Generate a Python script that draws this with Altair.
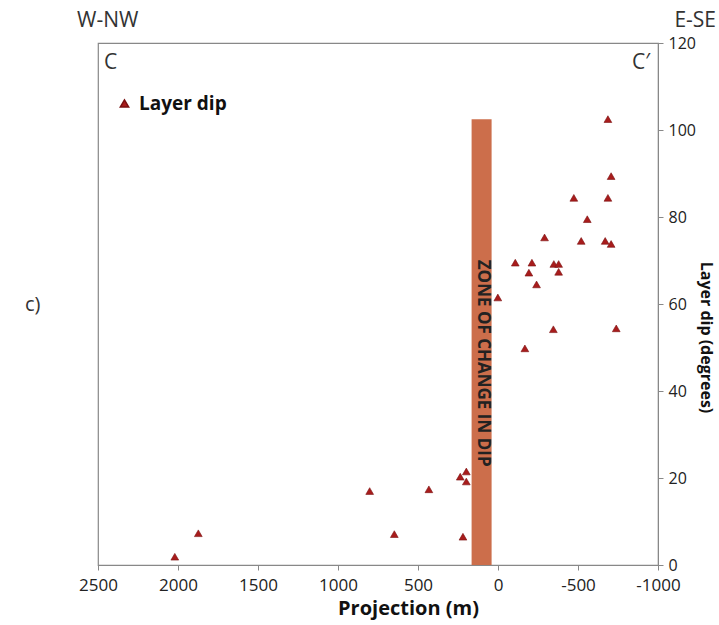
import altair as alt
import pandas as pd

# Layer dip measurements
projection_m = [2020, 1873, 802, 648, 432, 236, 198, 198, 219, 1, -108, -212, -349, -379,
                -193, -379, -241, -346, -739, -168, -687, -707, -474, -687, -558, -291,
                -520, -670, -707]
layer_dip = [1.9, 7.3, 17.0, 7.1, 17.4, 20.3, 21.5, 19.2, 6.5, 61.5, 69.5, 69.5, 69.2, 69.2,
             67.2, 67.4, 64.5, 54.2, 54.4, 49.8, 102.5, 89.4, 84.4, 84.4, 79.5, 75.3, 74.5,
             74.5, 73.8]
series = ["Layer dip"] * len(layer_dip)

zone_x = [165]
zone_x2 = [40]
zone_top = [102.5]
zone_label = ["ZONE OF CHANGE IN DIP"]
zone_label_x = [92]
zone_label_y = [46.4]

x_ticks = [2500, 2000, 1500, 1000, 500, 0, -500, -1000]
y_ticks = [0, 20, 40, 60, 80, 100, 120]

pts = pd.DataFrame({"proj": projection_m, "dip": layer_dip, "series": series})
zone = pd.DataFrame({"x": zone_x, "x2": zone_x2, "y0": [0], "y1": zone_top})
zlab = pd.DataFrame({"x": zone_label_x, "y": zone_label_y, "t": zone_label})

FONT = "Open Sans"

xscale = alt.Scale(domain=[2500, -1000], nice=False, zero=False)
yscale = alt.Scale(domain=[0, 120], nice=False)

xaxis = alt.Axis(values=x_ticks, title="Projection (m)", labelExpr="'' + datum.value",
                 grid=False, tickSize=5, labelFontSize=17, titleFontSize=20,
                 titleFontWeight="bold", labelFont=FONT, titleFont=FONT,
                 domainColor="#888", tickColor="#888", labelColor="#222",
                 titleColor="#111", labelPadding=7, titlePadding=5, labelFlush=False,
                 titleX=310)
yaxis = alt.Axis(values=y_ticks, orient="right", title="Layer dip (degrees)", grid=False,
                 tickSize=5, labelFontSize=16, titleFontSize=16, titleFontWeight="bold",
                 labelFont=FONT, titleFont=FONT, domainColor="#888", tickColor="#888",
                 labelColor="#222", titleColor="#111", labelPadding=5, titlePadding=2,
                 titleY=294)

bar = alt.Chart(zone).mark_rect(color="#CC6E4B").encode(
    x=alt.X("x:Q", scale=xscale, axis=xaxis),
    x2="x2:Q",
    y=alt.Y("y0:Q", scale=yscale, axis=yaxis),
    y2="y1:Q",
)

bar_text = alt.Chart(zlab).mark_text(
    angle=90, font=FONT, fontSize=17, fontWeight="bold", color="#222",
    align="center", baseline="middle"
).encode(x=alt.X("x:Q", scale=xscale), y=alt.Y("y:Q", scale=yscale), text="t:N")

points = alt.Chart(pts).mark_point(shape="triangle-up", filled=True, size=60, opacity=1,
                                   stroke="#7A1010", strokeWidth=0.6).encode(
    x=alt.X("proj:Q", scale=xscale),
    y=alt.Y("dip:Q", scale=yscale),
    color=alt.Color("series:N", scale=alt.Scale(domain=["Layer dip"], range=["#A81C1C"]),
                    legend=alt.Legend(title=None, orient="none", legendX=17, legendY=51,
                                      padding=0, symbolType="triangle-up", symbolSize=70,
                                      labelFontSize=19, labelFontWeight="bold",
                                      labelFont=FONT, labelColor="#111", labelOffset=5)),
)

def label(txt, x, y, size, align="left", weight="normal"):
    return alt.Chart(pd.DataFrame({"t": [txt]})).mark_text(
        font=FONT, fontSize=size, align=align, baseline="middle", color="#333",
        fontWeight=weight
    ).encode(x=alt.value(x), y=alt.value(y), text="t:N")

annotations = [
    label("W-NW", -21, -22, 21),
    label("E-SE", 618, -22, 21, align="right"),
    label("C", 6, 20, 21),
    label("C\u2032", 552, 20, 21, align="right"),
    label("c)", -73, 262, 20),
]

chart = alt.layer(bar, bar_text, points, *annotations).properties(
    width=560, height=522,
    autosize=alt.AutoSizeParams(type="none"),
    padding={"left": 98, "top": 43, "right": 61, "bottom": 60},
    background="white",
).configure_view(stroke="#888", strokeWidth=1.2)

chart.save("out.html", embed_options={"renderer": "svg", "actions": False})
